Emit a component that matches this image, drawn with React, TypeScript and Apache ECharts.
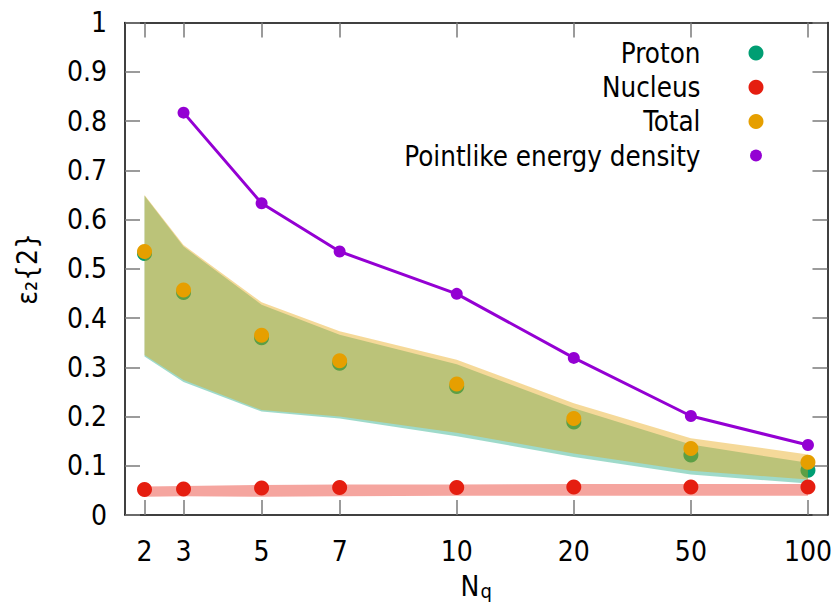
import React, { useEffect, useRef } from "react";
import * as echarts from "echarts";

// Tick labels of the N_q axis and their positions on the (uneven) horizontal scale
const nqLabels = ["2", "3", "5", "7", "10", "20", "50", "100"];
const nqPositions = [0, 1, 3, 5, 8, 11, 14, 17];
const yTickValues = [0, 0.1, 0.2, 0.3, 0.4, 0.5, 0.6, 0.7, 0.8, 0.9, 1];

// Points
const proton = [0.531, 0.452, 0.36, 0.308, 0.261, 0.189, 0.122, 0.091];
const nucleus = [0.052, 0.053, 0.055, 0.056, 0.056, 0.057, 0.057, 0.057];
const total = [0.535, 0.457, 0.365, 0.313, 0.266, 0.196, 0.135, 0.107];
const pointlikeLabels = ["3", "5", "7", "10", "20", "50", "100"];
const pointlike = [0.817, 0.633, 0.535, 0.449, 0.319, 0.201, 0.142];

// Bands
const protonLow = [0.322, 0.27, 0.21, 0.196, 0.16, 0.118, 0.082, 0.064];
const protonHigh = [0.648, 0.545, 0.427, 0.366, 0.306, 0.217, 0.143, 0.106];
const totalLow = [0.325, 0.274, 0.213, 0.2, 0.167, 0.125, 0.09, 0.072];
const totalHigh = [0.65, 0.548, 0.432, 0.373, 0.315, 0.227, 0.156, 0.123];
const nucleusLow = [0.037, 0.038, 0.037, 0.038, 0.039, 0.039, 0.039, 0.039];
const nucleusHigh = [0.058, 0.059, 0.061, 0.062, 0.062, 0.063, 0.063, 0.063];

const FONT = "'DejaVu Sans Condensed', 'Liberation Sans', sans-serif";

function posOf(label: string): number {
  return nqPositions[nqLabels.indexOf(label)];
}

function bandSeries(name: string, lower: number[], upper: number[], fill: string, z: number) {
  return {
    type: "custom",
    name,
    z,
    silent: true,
    data: [[nqPositions[0], lower[0]]],
    renderItem: (_params: any, api: any) => {
      const pts: number[][] = [];
      for (let i = 0; i < nqPositions.length; i++) pts.push(api.coord([nqPositions[i], upper[i]]));
      for (let i = nqPositions.length - 1; i >= 0; i--) pts.push(api.coord([nqPositions[i], lower[i]]));
      return { type: "polygon", shape: { points: pts }, style: { fill } };
    },
  };
}

const tickStyle = { color: "#7a7a7a", width: 1.5 };
const axisLineStyle = { color: "#000", width: 1.5 };

export default function App() {
  const ref = useRef<HTMLDivElement>(null);
  useEffect(() => {
    document.body.style.margin = "0";
    const chart = echarts.init(ref.current!, null, { renderer: "svg" });
    const pts = (vals: number[]) => vals.map((v, i) => [nqPositions[i], v]);
    chart.setOption({
      animation: false,
      backgroundColor: "#fff",
      grid: { left: 125, right: 7, top: 22.5, bottom: 93, containLabel: false },
      xAxis: [
        {
          type: "value",
          min: -0.5,
          max: 17.5,
          position: "bottom",
          name: "{n|N}{q|q}",
          nameLocation: "middle",
          nameGap: 57,
          nameTextStyle: {
            rich: {
              n: { fontSize: 28, fontFamily: FONT, color: "#000", lineHeight: 27, verticalAlign: "top" },
              q: { fontSize: 20, fontFamily: FONT, color: "#000", lineHeight: 20, verticalAlign: "top", padding: [9, 0, 0, 1] },
            },
          },
          axisLine: { show: true, onZero: false, lineStyle: axisLineStyle },
          axisTick: { show: true, inside: true, length: 15, customValues: nqPositions, lineStyle: tickStyle },
          axisLabel: {
            customValues: nqPositions,
            formatter: (v: number) => nqLabels[nqPositions.indexOf(Math.round(v))] ?? "",
            fontSize: 28,
            fontFamily: FONT,
            color: "#000",
            margin: 22,
          },
          splitLine: { show: false },
        },
        {
          type: "value",
          min: -0.5,
          max: 17.5,
          position: "top",
          axisLine: { show: true, onZero: false, lineStyle: axisLineStyle },
          axisTick: { show: true, inside: true, length: 15, customValues: nqPositions, lineStyle: tickStyle },
          axisLabel: { show: false },
          splitLine: { show: false },
        },
      ],
      yAxis: [
        {
          type: "value",
          min: 0,
          max: 1,
          interval: 0.1,
          position: "left",
          name: "\u03b5\u2082{2}",
          nameLocation: "middle",
          nameRotate: 90,
          nameGap: 84,
          nameTextStyle: { fontSize: 28, fontFamily: FONT, color: "#000" },
          axisLine: { show: true, onZero: false, lineStyle: axisLineStyle },
          axisTick: { show: true, inside: true, length: 15, lineStyle: tickStyle },
          axisLabel: {
            fontSize: 28,
            fontFamily: FONT,
            color: "#000",
            margin: 18,
            formatter: (v: number) => {
              const t = yTickValues.find((x) => Math.abs(x - v) < 1e-6);
              return t === undefined ? "" : String(t);
            },
          },
          splitLine: { show: false },
        },
        {
          type: "value",
          min: 0,
          max: 1,
          interval: 0.1,
          position: "right",
          axisLine: { show: true, onZero: false, lineStyle: axisLineStyle },
          axisTick: { show: true, inside: true, length: 15, lineStyle: tickStyle },
          axisLabel: { show: false },
          splitLine: { show: false },
        },
      ],
      legend: {
        orient: "vertical",
        right: 71.5,
        top: 39,
        padding: 0,
        align: "right",
        itemWidth: 15,
        itemHeight: 15,
        itemGap: 6.2,
        itemStyle: { borderWidth: 0 },
        textStyle: { fontSize: 27.5, fontFamily: FONT, color: "#000", lineHeight: 27.5, padding: [0, 43, 0, 0] },
        data: [
          { name: "Proton", icon: "circle" },
          { name: "Nucleus", icon: "circle" },
          { name: "Total", icon: "circle" },
          {
            name: "Pointlike energy density",
            icon: "path://M0,0M15,15M1.5,7.5a6,6 0 1,0 12,0a6,6 0 1,0 -12,0Z",
          },
        ],
      },
      series: [
        {
          type: "scatter",
          name: "Proton",
          z: 2,
          symbol: "circle",
          symbolSize: 15,
          itemStyle: { color: "#009e73", opacity: 1 },
          data: pts(proton),
        },
        bandSeries("Proton band", protonLow, protonHigh, "rgba(0,158,115,0.38)", 3),
        bandSeries("Total band", totalLow, totalHigh, "rgba(230,159,0,0.4)", 4),
        {
          type: "scatter",
          name: "Total",
          z: 5,
          symbol: "circle",
          symbolSize: 15,
          itemStyle: { color: "#e69f00", opacity: 1 },
          data: pts(total),
        },
        bandSeries("Nucleus band", nucleusLow, nucleusHigh, "rgba(229,30,16,0.4)", 6),
        {
          type: "scatter",
          name: "Nucleus",
          z: 7,
          symbol: "circle",
          symbolSize: 15,
          itemStyle: { color: "#e51e10", opacity: 1 },
          data: pts(nucleus),
        },
        {
          type: "line",
          name: "Pointlike energy density",
          z: 8,
          symbol: "circle",
          symbolSize: 12,
          showAllSymbol: true,
          lineStyle: { color: "#9400d3", width: 3 },
          itemStyle: { color: "#9400d3", borderWidth: 0 },
          data: pointlike.map((v, i) => [posOf(pointlikeLabels[i]), v]),
        },
      ],
    });
    return () => chart.dispose();
  }, []);
  return <div ref={ref} style={{ width: 835, height: 608 }} />;
}
